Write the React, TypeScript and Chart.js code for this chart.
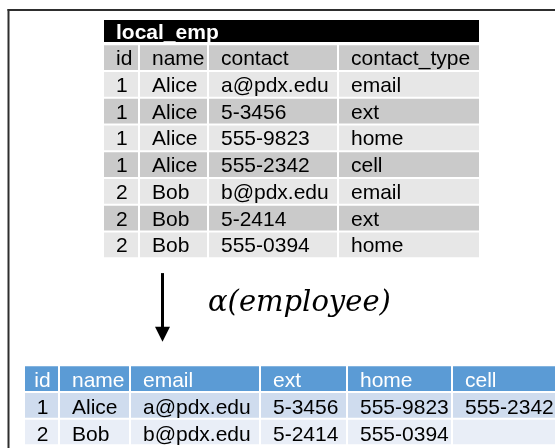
import { useEffect, useRef } from "react";
import { Chart, registerables } from "chart.js";

Chart.register(...registerables);

// ---- data ----
const rowLabels = ["title", "head", "r1", "r2", "r3", "r4", "r5", "r6", "r7", "gap1", "gap2", "gap3", "gap4", "bhead", "b1", "b2"];
const topTitle = "local_emp";
const topColumns = ["id", "name", "contact", "contact_type"];
const topIds = ["1", "1", "1", "1", "2", "2", "2"];
const topNames = ["Alice", "Alice", "Alice", "Alice", "Bob", "Bob", "Bob"];
const topContacts = ["a@pdx.edu", "5-3456", "555-9823", "555-2342", "b@pdx.edu", "5-2414", "555-0394"];
const topContactTypes = ["email", "ext", "home", "cell", "email", "ext", "home"];
const bottomColumns = ["id", "name", "email", "ext", "home", "cell"];
const bottomIds = ["1", "2"];
const bottomNames = ["Alice", "Bob"];
const bottomEmails = ["a@pdx.edu", "b@pdx.edu"];
const bottomExts = ["5-3456", "5-2414"];
const bottomHomes = ["555-9823", "555-0394"];
const bottomCells = ["555-2342", ""];
const operatorLabel = "α(employee)";

// ---- layout / style ----
const W = 555;
const H = 448;
const TOP_X = 104;
const TOP_WIDTHS = [34, 67, 128, 140];
const BOT_X = 25;
const BOT_WIDTHS = [33, 69, 128, 85, 103, 110];
const GAP = 2;
const TOP_TITLE_ROW = 0;
const TOP_HEAD_ROW = 1;
const BOT_HEAD_ROW = 13;
const GRAY_DARK = "#cacaca";
const GRAY_LIGHT = "#e7e7e7";
const BLUE_HEAD = "#5b9bd5";
const BLUE_1 = "#cfdcee";
const BLUE_2 = "#e9eef7";
const FONT = "21px 'Liberation Sans', Arial, sans-serif";
const FONT_BOLD = "bold 21px 'Liberation Sans', Arial, sans-serif";

function spans(x0: number, widths: number[]) {
  const out: [number, number][] = [];
  let x = x0;
  for (const w of widths) {
    out.push([x, x + w]);
    x += w + GAP;
  }
  return out;
}

type Cell = { text: string; color: string; font: string; align: "left" | "center"; dy: number };

function buildChart(canvas: HTMLCanvasElement) {
  const n = rowLabels.length;
  const topSpans = spans(TOP_X, TOP_WIDTHS);
  const botSpans = spans(BOT_X, BOT_WIDTHS);
  const topRowsCols = [topIds, topNames, topContacts, topContactTypes];
  const botRowsCols = [bottomIds, bottomNames, bottomEmails, bottomExts, bottomHomes, bottomCells];

  const texts: (Cell | null)[][] = [];
  const datasets: any[] = [];

  // title bar
  const titleData: any[] = new Array(n).fill(null);
  titleData[TOP_TITLE_ROW] = [topSpans[0][0], topSpans[topSpans.length - 1][1]];
  const titleTexts: (Cell | null)[] = new Array(n).fill(null);
  titleTexts[TOP_TITLE_ROW] = { text: topTitle, color: "#ffffff", font: FONT_BOLD, align: "left", dy: 8.5 };
  datasets.push({
    label: "title",
    data: titleData,
    backgroundColor: "#000000",
    barPercentage: 0.83,
    categoryPercentage: 1,
  });
  texts.push(titleTexts);

  for (let k = 0; k < 6; k++) {
    const data: any[] = new Array(n).fill(null);
    const colors: string[] = new Array(n).fill("rgba(0,0,0,0)");
    const t: (Cell | null)[] = new Array(n).fill(null);
    if (k < topColumns.length) {
      data[TOP_HEAD_ROW] = topSpans[k];
      colors[TOP_HEAD_ROW] = GRAY_DARK;
      t[TOP_HEAD_ROW] = { text: topColumns[k], color: "#000", font: FONT, align: "left", dy: 7.5 };
      topRowsCols[k].forEach((v, i) => {
        const r = TOP_HEAD_ROW + 1 + i;
        data[r] = topSpans[k];
        colors[r] = i % 2 === 0 ? GRAY_LIGHT : GRAY_DARK;
        t[r] = { text: v, color: "#000", font: FONT, align: "left", dy: 7.5 };
      });
    }
    data[BOT_HEAD_ROW] = botSpans[k];
    colors[BOT_HEAD_ROW] = BLUE_HEAD;
    t[BOT_HEAD_ROW] = { text: bottomColumns[k], color: "#ffffff", font: FONT, align: k === 0 ? "center" : "left", dy: 8 };
    botRowsCols[k].forEach((v, i) => {
      const r = BOT_HEAD_ROW + 1 + i;
      data[r] = botSpans[k];
      colors[r] = i % 2 === 0 ? BLUE_1 : BLUE_2;
      t[r] = { text: v, color: "#000", font: FONT, align: k === 0 ? "center" : "left", dy: 8.5 };
    });
    datasets.push({
      label: "col" + k,
      data,
      backgroundColor: colors,
      barPercentage: 0.925,
      categoryPercentage: 1,
    });
    texts.push(t);
  }

  const decor = {
    id: "decor",
    beforeDatasetsDraw(chart: any) {
      const ctx = chart.ctx;
      ctx.save();
      ctx.fillStyle = "#2e2e2e";
      ctx.fillRect(7.5, 9, W, 2);
      ctx.fillRect(7.5, 9, 2, H);
      ctx.restore();
    },
    afterDatasetsDraw(chart: any) {
      const ctx = chart.ctx;
      const xs = chart.scales.x;
      const ys = chart.scales.y;
      ctx.save();
      chart.data.datasets.forEach((_: any, d: number) => {
        const meta = chart.getDatasetMeta(d);
        meta.data.forEach((el: any, j: number) => {
          const c = texts[d][j];
          if (!c || !c.text) return;
          const left = Math.min(el.x, el.base);
          const right = Math.max(el.x, el.base);
          ctx.font = c.font;
          ctx.fillStyle = c.color;
          ctx.textBaseline = "alphabetic";
          if (c.align === "center") {
            ctx.textAlign = "center";
            ctx.fillText(c.text, (left + right) / 2 + 1, el.y + c.dy);
          } else {
            ctx.textAlign = "left";
            ctx.fillText(c.text, left + 12, el.y + c.dy);
          }
        });
      });
      // arrow
      const ax = xs.getPixelForValue(162.5);
      const top = ys.getPixelForValue(9) + 1.5;
      const tip = ys.getPixelForValue(12) - 10;
      const headBase = tip - 15;
      ctx.fillStyle = "#000";
      ctx.fillRect(ax - 1.5, top, 3, headBase - top + 1);
      ctx.beginPath();
      ctx.moveTo(ax - 7.5, headBase);
      ctx.lineTo(ax + 7.5, headBase);
      ctx.lineTo(ax, tip);
      ctx.closePath();
      ctx.fill();
      // operator label
      ctx.font = "italic 29px 'DejaVu Serif', serif";
      ctx.textAlign = "left";
      ctx.textBaseline = "alphabetic";
      ctx.fillText(operatorLabel, xs.getPixelForValue(208), ys.getPixelForValue(10) + 13);
      ctx.restore();
    },
  };

  return new Chart(canvas, {
    type: "bar",
    data: { labels: rowLabels, datasets },
    options: {
      indexAxis: "y",
      animation: false,
      responsive: false,
      events: [],
      layout: { padding: { top: 17.63, bottom: 2.63, left: 0, right: 0 } },
      datasets: { bar: { grouped: false, borderWidth: 0 } } as any,
      scales: {
        x: { type: "linear", min: 0, max: W, display: false },
        y: { type: "category", display: false, offset: true },
      },
      plugins: { legend: { display: false }, tooltip: { enabled: false } },
    },
    plugins: [decor],
  });
}

export default function App() {
  const ref = useRef<HTMLCanvasElement | null>(null);
  useEffect(() => {
    if (!ref.current) return;
    const chart = buildChart(ref.current);
    return () => chart.destroy();
  }, []);
  return (
    <div style={{ position: "fixed", left: 0, top: 0, width: W, height: H, background: "#fff" }}>
      <canvas ref={ref} width={W} height={H} style={{ display: "block" }} />
    </div>
  );
}
